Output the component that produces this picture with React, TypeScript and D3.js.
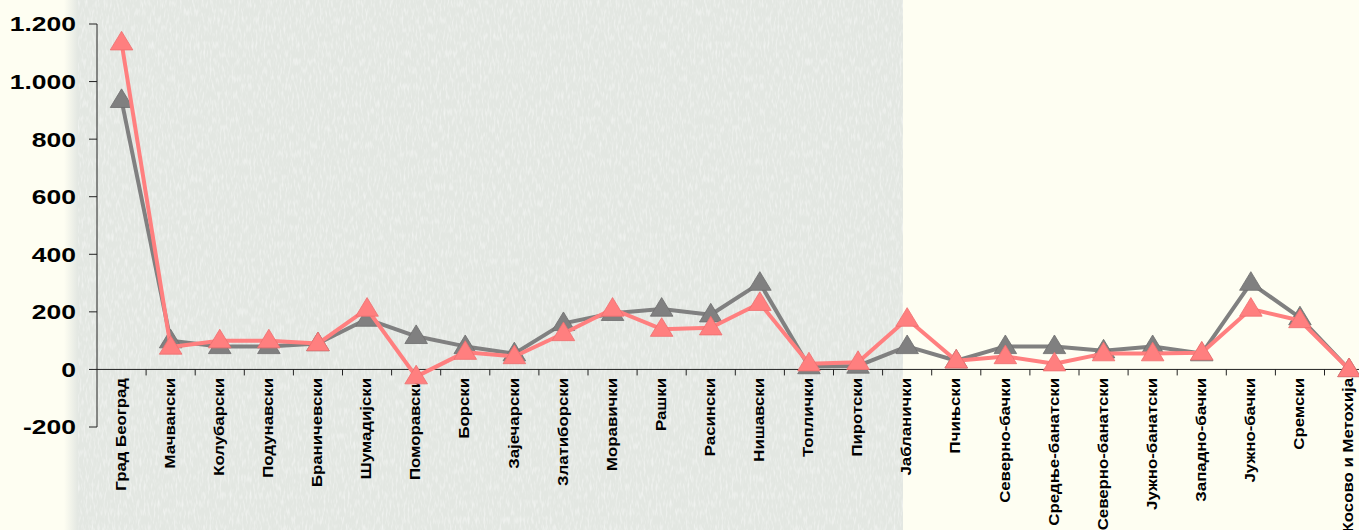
import React from "react";
import * as d3 from "d3";

const categories = [
  "Град Београд", "Мачвански", "Колубарски", "Подунавски", "Браничевски",
  "Шумадијски", "Поморавски", "Борски", "Зајечарски", "Златиборски",
  "Моравички", "Рашки", "Расински", "Нишавски", "Топлички", "Пиротски",
  "Јабланички", "Пчињски", "Северно-бачки", "Средње-банатски",
  "Северно-банатски", "Јужно-банатски", "Западно-бачки", "Јужно-бачки",
  "Сремски", "Косово и Метохија",
];

const seriesGray = [
  935, 100, 80, 80, 90, 175, 115, 80, 55, 160, 195, 210, 190, 300, 10, 12,
  80, 30, 80, 80, 65, 80, 55, 300, 180, 0,
];

const seriesPink = [
  1135, 78, 100, 100, 90, 210, -25, 60, 45, 125, 210, 140, 145, 230, 20, 25,
  175, 30, 45, 20, 55, 55, 58, 210, 170, 0,
];

const yTicks = [-200, 0, 200, 400, 600, 800, 1000, 1200];

const W = 1359;
const H = 530;

export default function App() {
  const x = d3
    .scaleBand<string>()
    .domain(categories)
    .range([97, 97 + categories.length * 49.1])
    .paddingInner(0)
    .paddingOuter(0);
  const y = d3.scaleLinear().domain([-200, 1200]).range([427, 24]);
  const fmtBase = d3
    .formatLocale({ thousands: ".", grouping: [3], decimal: ",", currency: ["", ""], minus: "-" })
    .format(",");
  const fmt = (v: number) => fmtBase(v);

  const cx = (c: string) => (x(c) as number) + x.bandwidth() / 2;
  const line = d3
    .line<number>()
    .x((_, i) => cx(categories[i]))
    .y((d) => y(d));

  const tri = d3.symbol(d3.symbolTriangle, 200)() as string;

  const series = [
    { vals: seriesGray, color: "#808080", edge: "#6E6E6E" },
    { vals: seriesPink, color: "#FF7F7F", edge: "#EE7070" },
  ];

  const y0 = y(0);
  const xEnd = 97 + categories.length * 49.1;

  return (
    <svg
      width={W}
      height={H}
      style={{ position: "absolute", left: 0, top: 0 }}
      fontFamily="'Liberation Sans', Arial, sans-serif"
    >
      <defs>
        <linearGradient id="edge" x1="0" x2="1" y1="0" y2="0">
          <stop offset="0" stopColor="#FEFEF2" />
          <stop offset="1" stopColor="#E3E7E2" />
        </linearGradient>
        <filter id="tex" x="0" y="0" width="100%" height="100%">
          <feTurbulence type="fractalNoise" baseFrequency="0.5 0.12" numOctaves="2" seed="3" result="n" />
          <feColorMatrix
            in="n"
            type="matrix"
            values="0 0 0 0 1  0 0 0 0 1  0 0 0 0 1  0 0 0 1.1 -0.5"
            result="w"
          />
          <feComposite in="w" in2="SourceGraphic" operator="in" result="wc" />
          <feMerge>
            <feMergeNode in="SourceGraphic" />
            <feMergeNode in="wc" />
          </feMerge>
        </filter>
      </defs>
      <rect x={0} y={0} width={W} height={H} fill="#FEFEF2" />
      <rect x={64} y={0} width={14} height={H} fill="url(#edge)" />
      <rect x={78} y={0} width={825} height={H} fill="#E3E7E2" filter="url(#tex)" />

      {/* Y axis */}
      <line x1={97} x2={97} y1={y(1200)} y2={y(-200)} stroke="#222" strokeWidth={1} />
      {yTicks.map((t) => (
        <g key={t}>
          <line x1={89} x2={97} y1={y(t)} y2={y(t)} stroke="#222" strokeWidth={1} />
          <text
            transform={`translate(76,${y(t)}) scale(1.26,1)`}
            textAnchor="end"
            dominantBaseline="central"
            fontSize={21}
            fontWeight="bold"
            fill="#000"
          >
            {fmt(t)}
          </text>
        </g>
      ))}

      {/* X axis */}
      <line x1={97} x2={xEnd} y1={y0} y2={y0} stroke="#222" strokeWidth={1} />
      {categories.map((c) => (
        <line
          key={"t" + c}
          x1={(x(c) as number) + x.bandwidth()}
          x2={(x(c) as number) + x.bandwidth()}
          y1={y0}
          y2={y0 + 6}
          stroke="#222"
          strokeWidth={1}
        />
      ))}
      {categories.map((c) => (
        <text
          key={"l" + c}
          transform={`translate(${cx(c) - 1},378) rotate(-90) scale(1.12,1)`}
          textAnchor="end"
          dominantBaseline="central"
          fontSize={15}
          fontWeight="bold"
          fill="#000"
        >
          {c}
        </text>
      ))}

      {/* Series */}
      {series.map((s, si) => (
        <g key={si}>
          <path d={line(s.vals) as string} fill="none" stroke={s.color} strokeWidth={4} strokeLinejoin="round" />
          {s.vals.map((v, i) => (
            <path
              key={i}
              d={tri}
              transform={`translate(${cx(categories[i])},${y(v) + 1}) scale(1.05,1)`}
              fill={s.color}
              stroke={s.edge}
              strokeWidth={0.8}
            />
          ))}
        </g>
      ))}
    </svg>
  );
}
